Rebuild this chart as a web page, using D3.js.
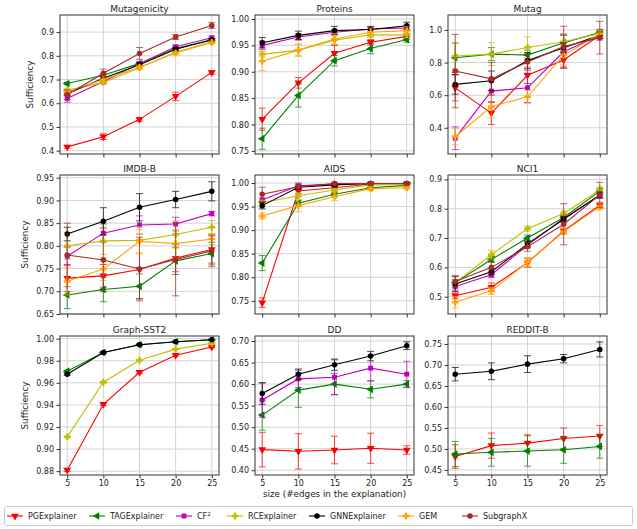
<!DOCTYPE html>
<html>
<head>
<meta charset="utf-8">
<script src="https://cdn.jsdelivr.net/npm/d3@7"></script>
<style>
  body { margin: 0; background: #fff; }
  svg { font-family: "DejaVu Sans", sans-serif; }
</style>
</head>
<body>
<svg width="637" height="529"></svg>
<script>
// DATA

var sizes = [5, 10, 15, 20, 25];
var methods = ["PGExplainer", "TAGExplainer", "CF2", "RCExplainer", "GNNExplainer", "GEM", "SubgraphX"];
var colors = ["#ff0000", "#008000", "#bf00bf", "#bfbf00", "#000000", "#ffa500", "#a52a2a"];

// one row per method, in the order above (null = not reported)
var mutagenicityMean = [
    [0.416, 0.459, 0.532, 0.629, 0.730],
    [0.683, 0.718, 0.768, 0.831, 0.867],
    [0.620, 0.692, 0.767, 0.838, 0.876],
    [0.655, 0.688, 0.750, 0.815, 0.860],
    [0.640, 0.705, 0.762, 0.828, 0.868],
    [0.648, 0.700, 0.752, 0.812, 0.856],
    [0.636, 0.726, 0.810, 0.879, 0.928]];
var mutagenicityErr = [
    [0.006, 0.012, 0.008, 0.018, 0.008],
    [0.005, 0.006, 0.006, 0.006, 0.005],
    [0.016, 0.008, 0.008, 0.007, 0.007],
    [0.006, 0.008, 0.008, 0.006, 0.006],
    [0.008, 0.008, 0.007, 0.006, 0.005],
    [0.010, 0.010, 0.008, 0.007, 0.006],
    [0.020, 0.018, 0.025, 0.010, 0.013]];
var mutagenicityTicks = [0.4, 0.5, 0.6, 0.7, 0.8, 0.9];

var proteinsMean = [
    [0.810, 0.879, 0.935, 0.956, 0.967],
    [0.773, 0.855, 0.921, 0.944, 0.961],
    [0.950, 0.966, 0.975, 0.981, 0.983],
    [0.933, 0.941, 0.960, 0.970, 0.970],
    [0.955, 0.969, 0.978, 0.980, 0.987],
    [0.920, 0.941, 0.962, 0.975, 0.978],
    null];
var proteinsErr = [
    [0.021, 0.010, 0.015, 0.005, 0.005],
    [0.020, 0.022, 0.010, 0.010, 0.005],
    [0.008, 0.006, 0.004, 0.005, 0.005],
    [0.005, 0.010, 0.008, 0.005, 0.005],
    [0.010, 0.008, 0.008, 0.005, 0.007],
    [0.018, 0.012, 0.010, 0.008, 0.008],
    null];
var proteinsTicks = [0.75, 0.80, 0.85, 0.90, 0.95, 1.00];

var mutagMean = [
    [0.645, 0.490, 0.722, 0.816, 0.968],
    [0.830, 0.852, 0.846, 0.922, 0.984],
    [0.336, 0.625, 0.645, 0.866, 0.968],
    [0.840, 0.852, 0.893, 0.928, 0.978],
    [0.666, 0.688, 0.812, 0.891, 0.968],
    [0.345, 0.530, 0.590, 0.846, 0.976],
    [0.748, 0.700, 0.803, 0.898, 0.953]];
var mutagErr = [
    [0.080, 0.070, 0.050, 0.050, 0.020],
    [0.090, 0.040, 0.030, 0.050, 0.020],
    [0.070, 0.070, 0.090, 0.100, 0.030],
    [0.080, 0.070, 0.065, 0.050, 0.020],
    [0.060, 0.060, 0.050, 0.030, 0.020],
    [0.050, 0.070, 0.040, 0.060, 0.020],
    [0.225, 0.100, 0.050, 0.125, 0.100]];
var mutagTicks = [0.4, 0.6, 0.8, 1.0];

var imdbMean = [
    [0.729, 0.734, 0.748, 0.773, 0.792],
    [0.692, 0.704, 0.711, 0.767, 0.783],
    [0.777, 0.828, 0.846, 0.848, 0.871],
    [0.800, 0.811, 0.812, 0.825, 0.841],
    [0.826, 0.854, 0.885, 0.902, 0.920],
    [0.722, 0.749, 0.810, 0.805, 0.815],
    [0.780, 0.769, 0.749, 0.770, 0.789]];
var imdbErr = [
    [0.030, 0.025, 0.065, 0.030, 0.030],
    [0.030, 0.027, 0.027, 0.030, 0.025],
    [0.020, 0.020, 0.020, 0.015, 0.005],
    [0.030, 0.030, 0.030, 0.030, 0.015],
    [0.015, 0.030, 0.030, 0.018, 0.021],
    [0.030, 0.025, 0.025, 0.030, 0.012],
    [0.070, 0.070, 0.070, 0.080, 0.035]];
var imdbTicks = [0.65, 0.70, 0.75, 0.80, 0.85, 0.90, 0.95];

var aidsMean = [
    [0.746, 0.983, 0.990, 0.998, 0.998],
    [0.830, 0.957, 0.976, 0.990, 0.995],
    [0.964, 0.994, 0.998, 0.999, 0.999],
    [0.958, 0.973, 0.985, 0.996, 0.997],
    [0.952, 0.991, 0.996, 0.999, 0.999],
    [0.930, 0.952, 0.971, 0.988, 0.990],
    [0.976, 0.992, 0.999, 0.999, 0.999]];
var aidsErr = [
    [0.010, 0.005, 0.003, 0.002, 0.002],
    [0.016, 0.005, 0.004, 0.002, 0.002],
    [0.004, 0.003, 0.002, 0.001, 0.001],
    [0.005, 0.004, 0.003, 0.002, 0.002],
    [0.007, 0.003, 0.002, 0.001, 0.001],
    [0.006, 0.013, 0.008, 0.004, 0.003],
    [0.015, 0.008, 0.002, 0.001, 0.001]];
var aidsTicks = [0.75, 0.80, 0.85, 0.90, 0.95, 1.00];

var nci1Mean = [
    [0.503, 0.532, 0.616, 0.724, 0.812],
    [0.548, 0.627, 0.700, 0.770, 0.860],
    [0.535, 0.575, 0.676, 0.767, 0.845],
    [0.548, 0.643, 0.732, 0.784, 0.864],
    [0.543, 0.585, 0.680, 0.764, 0.847],
    [0.481, 0.520, 0.618, 0.722, 0.807],
    [0.552, 0.600, 0.670, 0.747, 0.847]];
var nci1Err = [
    [0.010, 0.015, 0.015, 0.010, 0.010],
    [0.010, 0.010, 0.010, 0.008, 0.010],
    [0.012, 0.010, 0.010, 0.010, 0.010],
    [0.010, 0.015, 0.008, 0.008, 0.010],
    [0.025, 0.010, 0.010, 0.010, 0.010],
    [0.020, 0.012, 0.015, 0.010, 0.012],
    [0.020, 0.020, 0.015, 0.070, 0.043]];
var nci1Ticks = [0.5, 0.6, 0.7, 0.8, 0.9];

var sst2Mean = [
    [0.8810, 0.9405, 0.9695, 0.9850, 0.9925],
    [0.9705, 0.9875, 0.9945, 0.9972, 0.9990],
    null,
    [0.9110, 0.9605, 0.9805, 0.9905, 0.9958],
    [0.9678, 0.9875, 0.9945, 0.9972, 0.9990],
    null,
    null];
var sst2Err = [
    [0.0012, 0.0012, 0.0010, 0.0010, 0.0008],
    [0.0008, 0.0006, 0.0005, 0.0004, 0.0003],
    null,
    [0.0008, 0.0008, 0.0006, 0.0005, 0.0004],
    [0.0010, 0.0006, 0.0005, 0.0004, 0.0003],
    null,
    null];
var sst2Ticks = [0.88, 0.90, 0.92, 0.94, 0.96, 0.98, 1.00];

var ddMean = [
    [0.448, 0.444, 0.447, 0.451, 0.447],
    [0.528, 0.586, 0.600, 0.588, 0.600],
    [0.563, 0.612, 0.616, 0.637, 0.623],
    null,
    [0.578, 0.623, 0.645, 0.665, 0.689],
    null,
    null];
var ddErr = [
    [0.040, 0.041, 0.032, 0.035, 0.010],
    [0.035, 0.040, 0.025, 0.020, 0.008],
    [0.040, 0.020, 0.040, 0.030, 0.030],
    null,
    [0.025, 0.012, 0.013, 0.011, 0.009],
    null,
    null];
var ddTicks = [0.40, 0.45, 0.50, 0.55, 0.60, 0.65, 0.70];

var redditMean = [
    [0.482, 0.508, 0.514, 0.525, 0.531],
    [0.488, 0.492, 0.495, 0.498, 0.506],
    null,
    null,
    [0.678, 0.685, 0.702, 0.715, 0.737],
    null,
    null];
var redditErr = [
    [0.028, 0.030, 0.020, 0.025, 0.025],
    [0.030, 0.033, 0.036, 0.032, 0.028],
    null,
    null,
    [0.016, 0.020, 0.020, 0.010, 0.018],
    null,
    null];
var redditTicks = [0.45, 0.50, 0.55, 0.60, 0.65, 0.70, 0.75];

// SETUP

var panels = [
    { title: "Mutagenicity", mean: mutagenicityMean, err: mutagenicityErr, ticks: mutagenicityTicks, ydom: [0.386, 0.972], fmt: ".1f" },
    { title: "Proteins", mean: proteinsMean, err: proteinsErr, ticks: proteinsTicks, ydom: [0.744, 1.0076], fmt: ".2f" },
    { title: "Mutag", mean: mutagMean, err: mutagErr, ticks: mutagTicks, ydom: [0.239, 1.092], fmt: ".1f" },
    { title: "IMDB-B", mean: imdbMean, err: imdbErr, ticks: imdbTicks, ydom: [0.650, 0.956], fmt: ".2f" },
    { title: "AIDS", mean: aidsMean, err: aidsErr, ticks: aidsTicks, ydom: [0.722, 1.017], fmt: ".2f" },
    { title: "NCI1", mean: nci1Mean, err: nci1Err, ticks: nci1Ticks, ydom: [0.441, 0.915], fmt: ".1f" },
    { title: "Graph-SST2", mean: sst2Mean, err: sst2Err, ticks: sst2Ticks, ydom: [0.8765, 1.0024], fmt: ".2f" },
    { title: "DD", mean: ddMean, err: ddErr, ticks: ddTicks, ydom: [0.389, 0.7116], fmt: ".2f" },
    { title: "REDDIT-B", mean: redditMean, err: redditErr, ticks: redditTicks, ydom: [0.438, 0.769], fmt: ".2f" }
];

var svg = d3.select("svg"),
    colLeft = [60, 255, 448],
    rowTop = [15, 175, 336],
    pw = 159,
    ph = 139;

// marker shapes per method
var symbols = [
    { type: d3.symbolTriangle, size: 26, rot: 180 },
    { type: d3.symbolTriangle, size: 26, rot: -90 },
    { type: d3.symbolSquare, size: 24, rot: 0 },
    { type: d3.symbolCross, size: 26, rot: 0 },
    { type: d3.symbolCircle, size: 24, rot: 0 },
    { type: d3.symbolCross, size: 26, rot: 0 },
    { type: d3.symbolCircle, size: 24, rot: 0 }
];

function marker(sel, i, cx, cy) {
    sel.append("path")
        .attr("d", d3.symbol().type(symbols[i].type).size(symbols[i].size)())
        .attr("transform", "translate(" + cx + "," + cy + ") rotate(" + symbols[i].rot + ")")
        .attr("fill", colors[i]);
}

// DRAWING

panels.forEach(function (p, k) {
    var row = Math.floor(k / 3), col = k % 3;
    var g = svg.append("g")
        .attr("transform", "translate(" + colLeft[col] + "," + rowTop[row] + ")");

    var x = d3.scaleLinear().domain([4, 26]).range([0, pw]);
    var y = d3.scaleLinear().domain(p.ydom).range([ph, 0]);

    // grid
    g.append("g").selectAll("line").data(sizes).enter().append("line")
        .attr("x1", function (d) { return x(d); }).attr("x2", function (d) { return x(d); })
        .attr("y1", 0).attr("y2", ph)
        .attr("stroke", "#d3d3d3").attr("stroke-width", 1);
    g.append("g").selectAll("line").data(p.ticks).enter().append("line")
        .attr("y1", function (d) { return y(d); }).attr("y2", function (d) { return y(d); })
        .attr("x1", 0).attr("x2", pw)
        .attr("stroke", "#d3d3d3").attr("stroke-width", 1);

    // axes
    var ya = g.append("g")
        .call(d3.axisLeft(y).tickValues(p.ticks).tickFormat(d3.format(p.fmt)).tickSize(3.5).tickPadding(2.5));
    var xa = g.append("g")
        .attr("transform", "translate(0," + ph + ")")
        .call(d3.axisBottom(x).tickValues(sizes).tickSize(3.5).tickPadding(1.5)
            .tickFormat(row == 2 ? d3.format("d") : function () { return ""; }));
    [ya, xa].forEach(function (a) {
        a.select(".domain").remove();
        a.selectAll("text").attr("font-size", 8).attr("fill", "#222").attr("font-family", "DejaVu Sans");
        a.selectAll("line").attr("stroke", "#333");
    });

    // series
    p.mean.forEach(function (vals, i) {
        if (!vals) return;
        var errs = p.err[i];
        var sg = g.append("g");
        var line = d3.line()
            .x(function (d, j) { return x(sizes[j]); })
            .y(function (d) { return y(d); });
        sg.append("path").datum(vals)
            .attr("d", line)
            .attr("fill", "none")
            .attr("stroke", colors[i])
            .attr("stroke-width", 1.1);
        var eb = sg.append("g").attr("stroke", colors[i]).attr("stroke-width", 1).attr("opacity", 0.7);
        vals.forEach(function (v, j) {
            var cx = x(sizes[j]), y0 = y(v - errs[j]), y1 = y(v + errs[j]);
            eb.append("line").attr("x1", cx).attr("x2", cx).attr("y1", y0).attr("y2", y1);
            eb.append("line").attr("x1", cx - 3.5).attr("x2", cx + 3.5).attr("y1", y0).attr("y2", y0);
            eb.append("line").attr("x1", cx - 3.5).attr("x2", cx + 3.5).attr("y1", y1).attr("y2", y1);
        });
        vals.forEach(function (v, j) { marker(sg, i, x(sizes[j]), y(v)); });
    });

    // frame
    g.append("rect")
        .attr("x", 0).attr("y", 0).attr("width", pw).attr("height", ph)
        .attr("fill", "none").attr("stroke", "#333").attr("stroke-width", 1);

    // title
    g.append("text")
        .attr("x", pw / 2).attr("y", -3.5)
        .attr("text-anchor", "middle")
        .attr("font-size", 9).attr("fill", "#222")
        .text(p.title);

    // y label on the first column
    if (col == 0) {
        var minX = d3.min(ya.selectAll("text").nodes(), function (n) { return n.getBBox().x; }) - 3.5 - 2.5;
        g.append("text")
            .attr("transform", "translate(" + (minX - 2.5) + "," + (ph / 2) + ") rotate(-90)")
            .attr("text-anchor", "middle")
            .attr("font-size", 8.8).attr("fill", "#222")
            .text("Sufficiency");
    }
});

// x label under the middle column
svg.append("text")
    .attr("x", colLeft[1] + pw / 2).attr("y", 497)
    .attr("text-anchor", "middle")
    .attr("font-size", 8.8).attr("fill", "#222")
    .text("size (#edges in the explanation)");

// LEGEND

var legend = svg.append("g");
legend.append("rect")
    .attr("x", 4.5).attr("y", 506.5).attr("width", 628).attr("height", 19)
    .attr("rx", 2).attr("fill", "#fff").attr("stroke", "#cccccc");

var handleX = [7, 89, 176, 227, 309, 398, 462];
var ly = 516, fs = 8;
methods.forEach(function (m, i) {
    var lx = handleX[i];
    legend.append("line")
        .attr("x1", lx).attr("x2", lx + 16).attr("y1", ly).attr("y2", ly)
        .attr("stroke", colors[i]).attr("stroke-width", 1.1);
    marker(legend, i, lx + 8, ly);
    var t = legend.append("text")
        .attr("x", lx + 21).attr("y", ly + 3)
        .attr("font-size", fs).attr("fill", "#222");
    if (m == "CF2") {
        t.append("tspan").text("CF");
        t.append("tspan").attr("dy", -3).attr("font-size", fs * 0.7).text("2");
    } else {
        t.text(m);
    }
});
</script>
</body>
</html>
